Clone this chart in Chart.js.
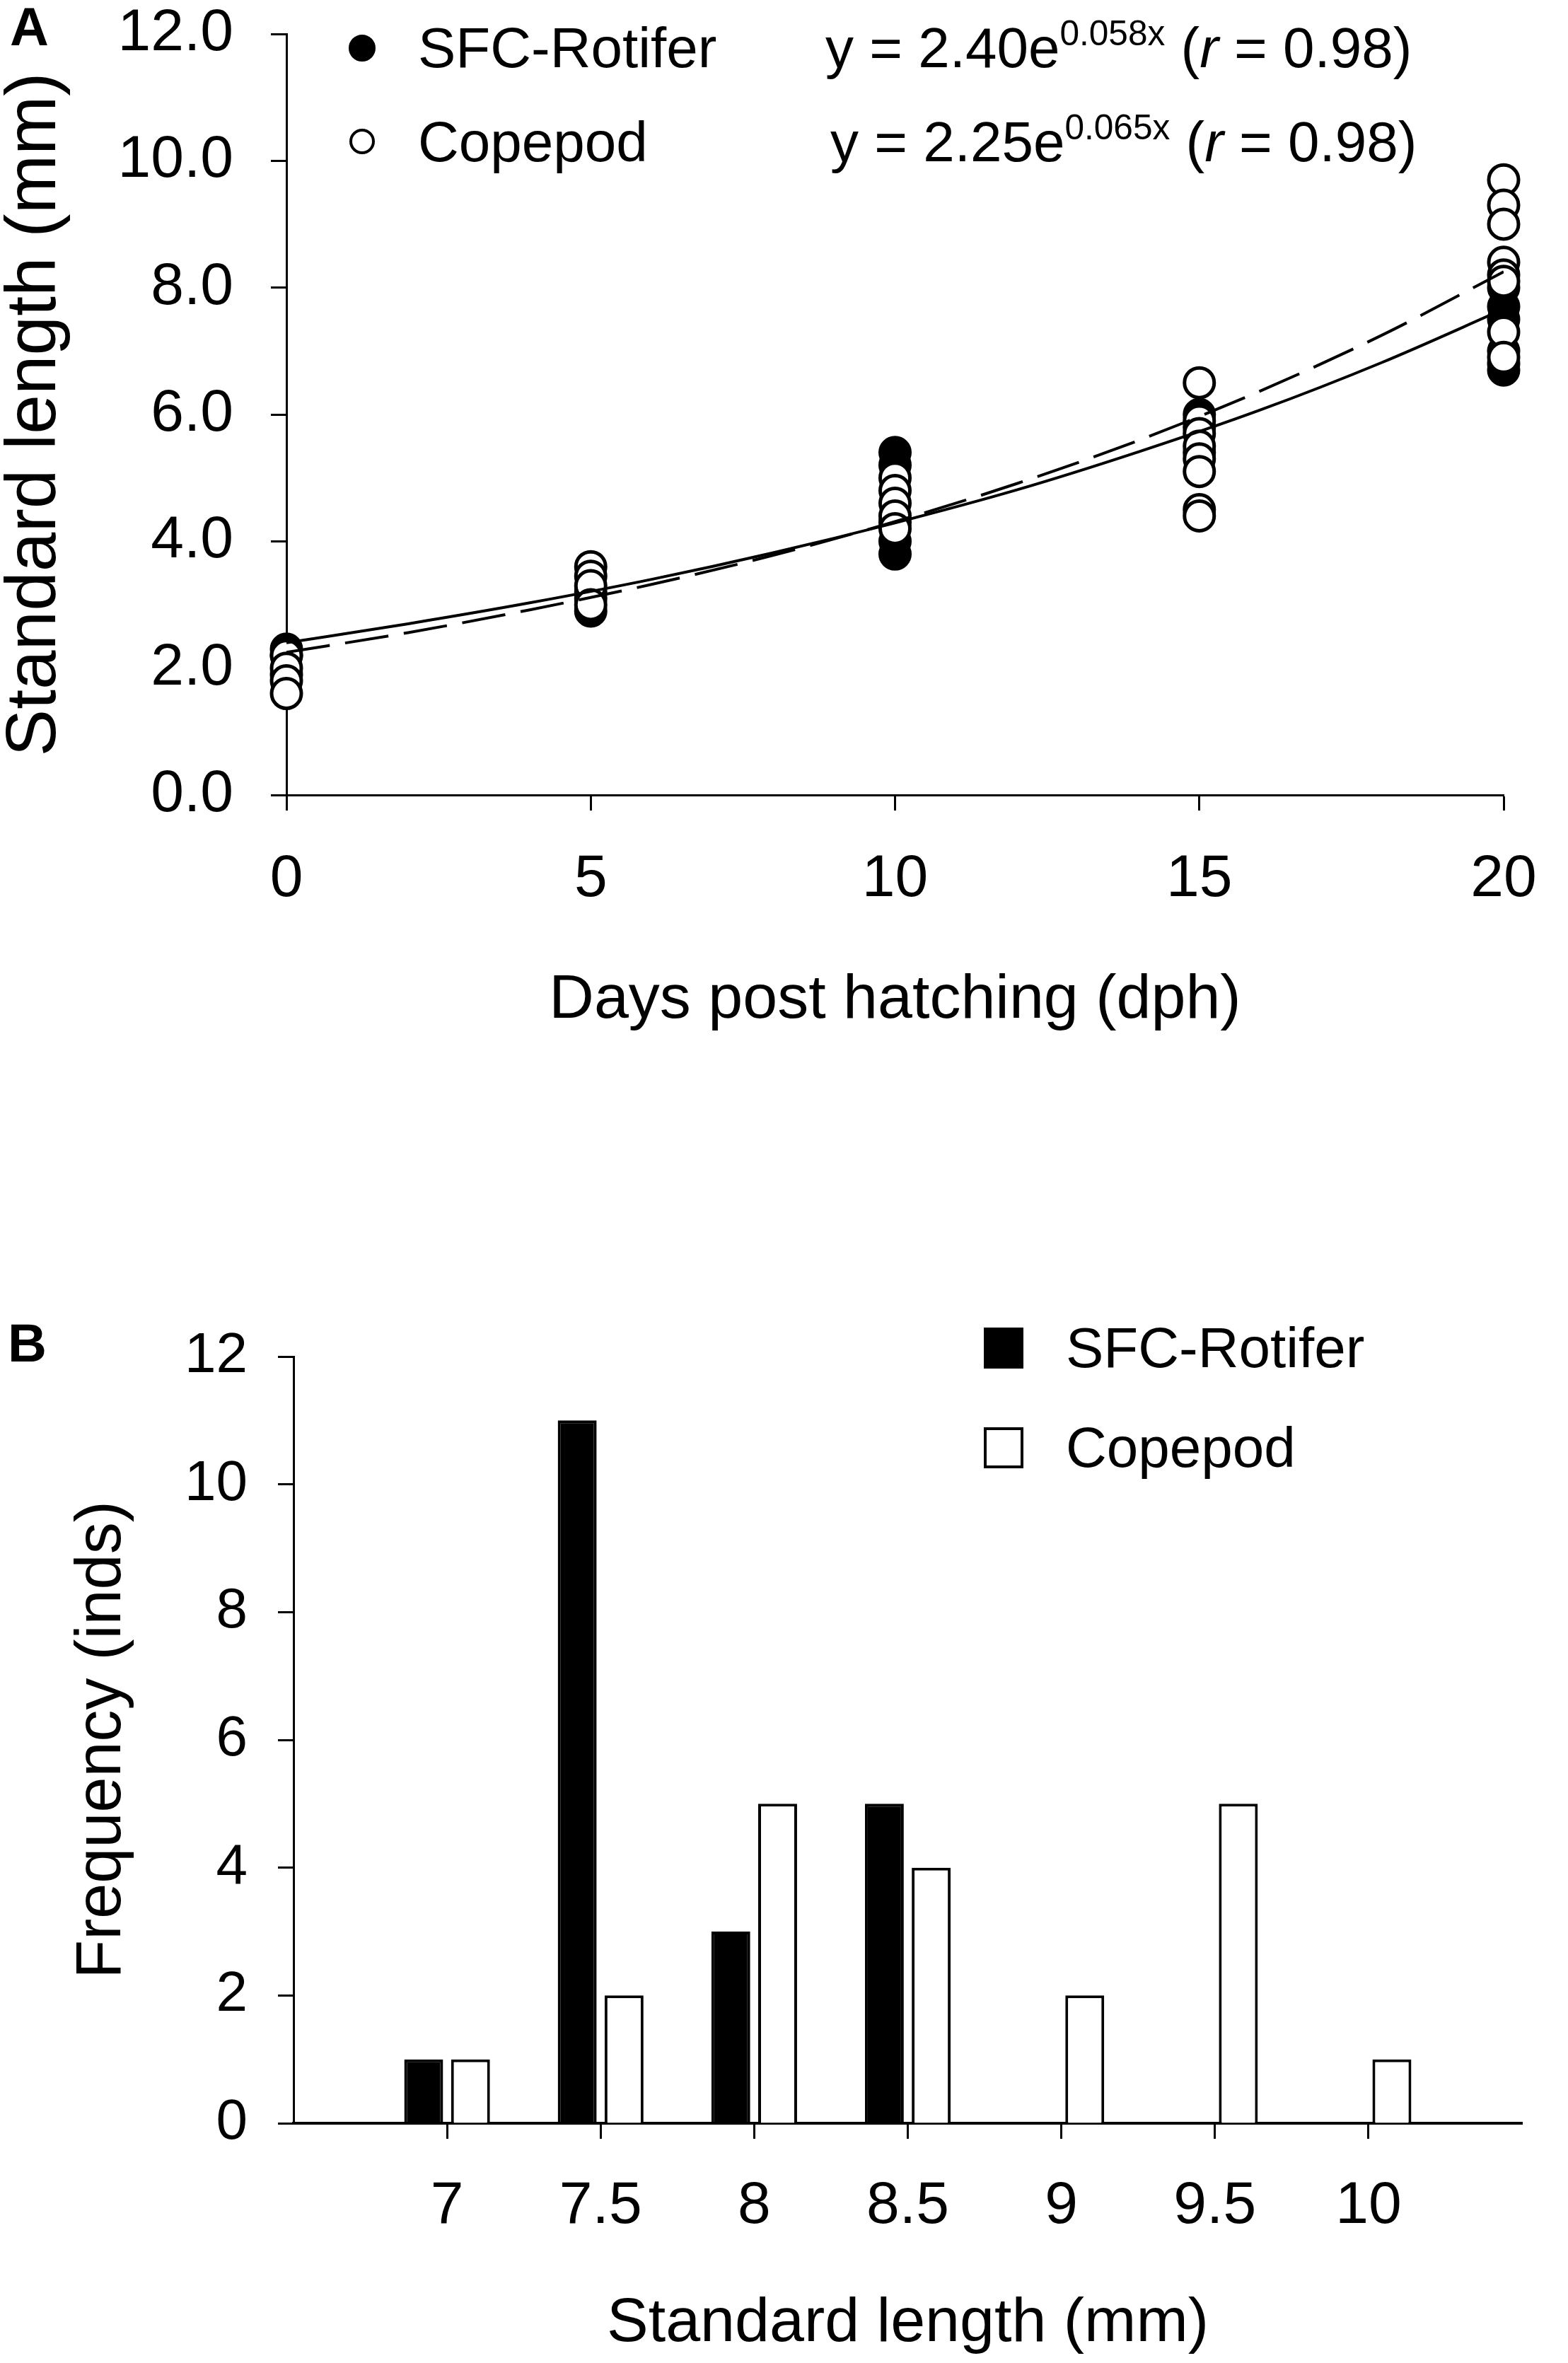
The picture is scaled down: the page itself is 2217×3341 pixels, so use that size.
<!DOCTYPE html>
<html>
<head>
<meta charset="utf-8">
<script src="https://cdn.jsdelivr.net/npm/chart.js@4.4.1/dist/chart.umd.min.js"></script>
<style>
  html, body { margin: 0; padding: 0; background: #fff; }
  body { position: relative; width: 2217px; height: 3341px; overflow: hidden; font-family: "Liberation Sans", Arial, sans-serif; color: #000; }
  canvas { position: absolute; left: 0; }
  #graficaA { top: 0; }
  #graficaB { top: 1800px; }
  .etiqueta { position: absolute; white-space: nowrap; line-height: 1; }
  .panel { font-weight: bold; font-size: 76px; }
  .leyenda { font-size: 80px; }
  .leyenda sup { font-size: 0.62em; position: relative; top: -0.62em; vertical-align: baseline; }
  .punto { position: absolute; border-radius: 50%; box-sizing: border-box; border: 4px solid #000; }
  .caja { position: absolute; box-sizing: border-box; border: 4px solid #000; }
</style>
</head>
<body>
<canvas id="graficaA" width="2217" height="1460"></canvas>
<canvas id="graficaB" width="2217" height="1541"></canvas>

<div class="etiqueta panel" style="left:14px; top:0px;">A</div>
<div class="etiqueta panel" style="left:11px; top:1861px;">B</div>

<!-- leyenda panel A -->
<div class="punto" style="left:493px; top:49px; width:38px; height:38px; background:#000;"></div>
<div class="punto" style="left:494px; top:182px; width:36px; height:36px; background:#fff;"></div>
<div class="etiqueta leyenda" style="left:591px; top:28px;">SFC-Rotifer</div>
<div class="etiqueta leyenda" style="left:591px; top:161px;">Copepod</div>
<div class="etiqueta leyenda" style="left:1167px; top:28px;">y = 2.40e<sup>0.058x</sup> (<i>r</i> = 0.98)</div>
<div class="etiqueta leyenda" style="left:1174px; top:161px;">y = 2.25e<sup>0.065x</sup> (<i>r</i> = 0.98)</div>

<!-- leyenda panel B -->
<div class="caja" style="left:1391px; top:1877px; width:56px; height:58px; background:#000;"></div>
<div class="caja" style="left:1391px; top:2018px; width:56px; height:58px; background:#fff;"></div>
<div class="etiqueta leyenda" style="left:1507px; top:1866px;">SFC-Rotifer</div>
<div class="etiqueta leyenda" style="left:1507px; top:2007px;">Copepod</div>

<script>
// Panel A: longitud estándar por día
const diasA = [0, 5, 10, 15, 20];
const rotiferA = [
    [2.3, 2.2, 1.9],
    [3.2, 3.1, 2.9],
    [5.4, 5.2, 4.3, 4.0, 3.8],
    [6.0, 5.8, 5.4],
    [8.0, 7.7, 7.5, 7.0, 6.8, 6.7]
];
const copepodoA = [
    [2.2, 2.0, 1.8, 1.6],
    [3.6, 3.45, 3.3, 3.0],
    [5.0, 4.8, 4.6, 4.4, 4.2],
    [6.5, 5.9, 5.7, 5.5, 5.3, 5.1, 4.5, 4.4],
    [9.7, 9.3, 9.0, 8.4, 8.2, 8.1, 7.3, 6.9]
];
// curvas de ajuste
const ajusteX = [0, 2, 4, 6, 8, 10, 12, 14, 16, 18, 20];
const ajusteRotifer = [2.40, 2.70, 3.03, 3.40, 3.82, 4.29, 4.81, 5.41, 6.07, 6.82, 7.66];
const ajusteCopepodo = [2.25, 2.56, 2.92, 3.32, 3.78, 4.31, 4.91, 5.59, 6.37, 7.25, 8.25];
const ticksXA = [0, 5, 10, 15, 20];
const ticksYA = [0, 2, 4, 6, 8, 10, 12];

// Panel B: frecuencia por clase de longitud
const clasesB = [7, 7.5, 8, 8.5, 9, 9.5, 10];
const rotiferB = [1, 11, 3, 5, 0, 0, 0];
const copepodoB = [1, 2, 5, 4, 2, 5, 1];
const ticksYB = [0, 2, 4, 6, 8, 10, 12];

const fuente = '"Liberation Sans", Arial, sans-serif';
Chart.defaults.font.family = fuente;
Chart.defaults.color = '#000';

function puntos(dias, grupos) {
    const salida = [];
    dias.forEach((d, i) => {
        grupos[i].forEach(v => salida.push({ x: d, y: v }));
    });
    return salida;
}

function lineaAjuste(xs, ys) {
    return xs.map((x, i) => ({ x: x, y: ys[i] }));
}

// ---------- Panel A ----------
new Chart(document.getElementById('graficaA'), {
    type: 'scatter',
    data: {
        datasets: [
            {
                label: 'ajuste SFC-Rotifer',
                data: lineaAjuste(ajusteX, ajusteRotifer),
                showLine: true,
                pointRadius: 0,
                borderColor: '#000',
                borderWidth: 4,
                cubicInterpolationMode: 'monotone',
                order: 0
            },
            {
                label: 'ajuste Copepod',
                data: lineaAjuste(ajusteX, ajusteCopepodo),
                showLine: true,
                pointRadius: 0,
                borderColor: '#000',
                borderWidth: 4,
                borderDash: [62, 22],
                cubicInterpolationMode: 'monotone',
                order: 0
            },
            {
                label: 'Copepod',
                data: puntos(diasA, copepodoA),
                pointRadius: 21,
                pointBorderWidth: 5,
                pointBackgroundColor: '#fff',
                pointBorderColor: '#000',
                clip: false,
                order: 1
            },
            {
                label: 'SFC-Rotifer',
                data: puntos(diasA, rotiferA),
                pointRadius: 21,
                pointBorderWidth: 5,
                pointBackgroundColor: '#000',
                pointBorderColor: '#000',
                clip: false,
                order: 2
            }
        ]
    },
    options: {
        responsive: false,
        devicePixelRatio: 1,
        animation: false,
        layout: { padding: { top: 48, right: 91, bottom: 0, left: 0 } },
        plugins: { legend: { display: false }, tooltip: { enabled: false } },
        scales: {
            x: {
                type: 'linear',
                min: 0,
                max: 20,
                afterBuildTicks: s => { s.ticks = ticksXA.map(v => ({ value: v })); },
                afterFit: s => { s.height = 336; s.paddingLeft = 0; s.paddingRight = 0; },
                border: { display: true, color: '#000', width: 3 },
                grid: { display: true, drawOnChartArea: false, drawTicks: true, tickLength: 22, tickWidth: 3, tickColor: '#000' },
                ticks: { color: '#000', font: { size: 84, lineHeight: 1 }, padding: 56, maxRotation: 0 },
                title: { display: true, text: 'Days post hatching (dph)', color: '#000', font: { size: 88, lineHeight: 1 }, padding: { top: 0, bottom: 1 } }
            },
            y: {
                min: 0,
                max: 12,
                afterBuildTicks: s => { s.ticks = ticksYA.map(v => ({ value: v })); },
                afterFit: s => { s.width = 405; s.paddingTop = 0; s.paddingBottom = 0; },
                border: { display: true, color: '#000', width: 3 },
                grid: { display: true, drawOnChartArea: false, drawTicks: true, tickLength: 22, tickWidth: 3, tickColor: '#000' },
                ticks: { color: '#000', font: { size: 84, lineHeight: 1 }, padding: 53, callback: v => v.toFixed(1) },
                title: { display: true, text: 'Standard length (mm)', color: '#000', font: { size: 100, lineHeight: 1 }, padding: { top: 0, bottom: 0 } }
            }
        }
    }
});

// ---------- Panel B ----------
new Chart(document.getElementById('graficaB'), {
    type: 'bar',
    data: {
        datasets: [
            {
                label: 'SFC-Rotifer',
                data: clasesB.map((c, i) => ({ x: c, y: rotiferB[i] })),
                backgroundColor: '#000',
                borderColor: '#000',
                borderWidth: 4,
                categoryPercentage: 0.61,
                barPercentage: 0.83
            },
            {
                label: 'Copepod',
                data: clasesB.map((c, i) => ({ x: c, y: copepodoB[i] })),
                backgroundColor: '#fff',
                borderColor: '#000',
                borderWidth: 4,
                categoryPercentage: 0.61,
                barPercentage: 0.83
            }
        ]
    },
    options: {
        responsive: false,
        devicePixelRatio: 1,
        animation: false,
        layout: { padding: { top: 118, right: 65, bottom: 11, left: 0 } },
        plugins: { legend: { display: false }, tooltip: { enabled: false } },
        scales: {
            x: {
                type: 'linear',
                min: 6.5,
                max: 10.5,
                offset: false,
                afterBuildTicks: s => { s.ticks = clasesB.map(v => ({ value: v })); },
                afterFit: s => { s.height = 328; s.paddingLeft = 0; s.paddingRight = 0; },
                border: { display: true, color: '#000', width: 4 },
                grid: { display: true, offset: false, drawOnChartArea: false, drawTicks: true, tickLength: 22, tickWidth: 3, tickColor: '#000' },
                ticks: { color: '#000', font: { size: 84, lineHeight: 1 }, padding: 54, maxRotation: 0, callback: v => String(v) },
                title: { display: true, text: 'Standard length (mm)', color: '#000', font: { size: 88, lineHeight: 1 }, padding: { top: 0, bottom: 0 } }
            },
            y: {
                min: 0,
                max: 12,
                afterBuildTicks: s => { s.ticks = ticksYB.map(v => ({ value: v })); },
                afterFit: s => { s.width = 415; s.paddingTop = 0; s.paddingBottom = 0; },
                border: { display: true, color: '#000', width: 3 },
                grid: { display: true, drawOnChartArea: false, drawTicks: true, tickLength: 22, tickWidth: 3, tickColor: '#000' },
                ticks: { color: '#000', font: { size: 80, lineHeight: 1 }, padding: 43 },
                title: { display: true, text: 'Frequency (inds)', color: '#000', font: { size: 90, lineHeight: 1 }, padding: { top: 100, bottom: 0 } }
            }
        }
    }
});
</script>
</body>
</html>
